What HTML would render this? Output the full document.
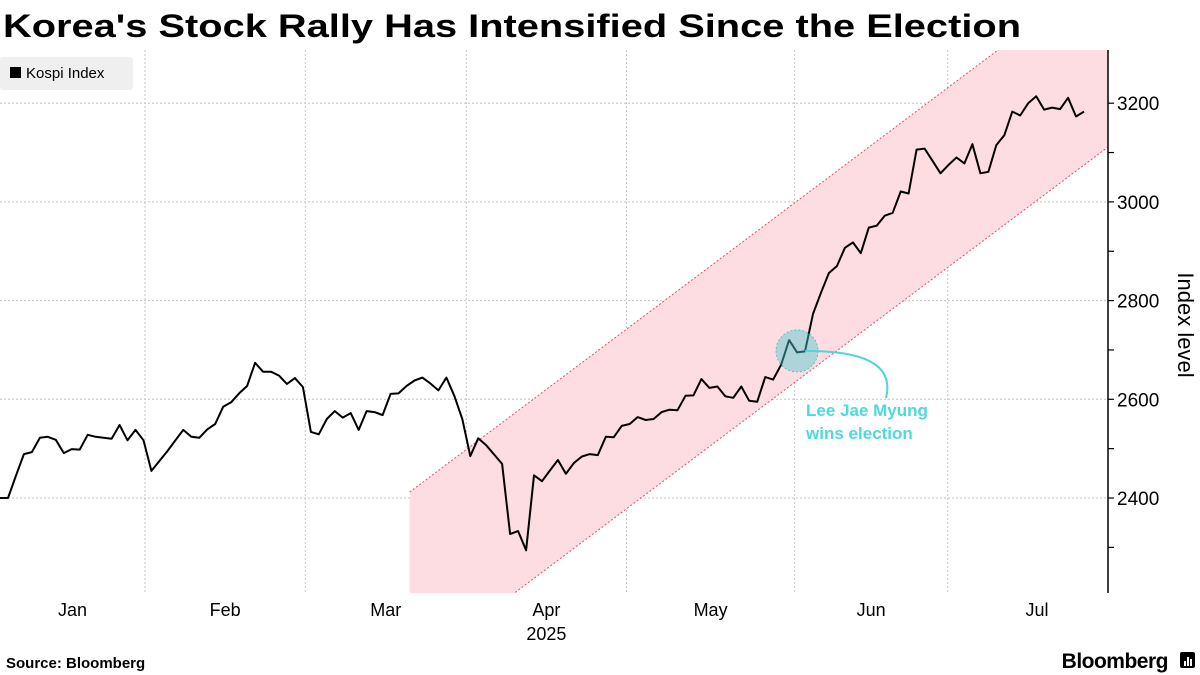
<!DOCTYPE html>
<html><head><meta charset="utf-8"><style>
html,body{margin:0;padding:0;background:#fff;}
svg{display:block;font-family:"Liberation Sans",sans-serif;}
</style></head><body>
<svg id="chart" width="1200" height="675" viewBox="0 0 1200 675">
<text x="3" y="37" font-size="32" font-weight="bold" textLength="1018" lengthAdjust="spacingAndGlyphs" fill="#000">Korea's Stock Rally Has Intensified Since the Election</text>
<g id="grid"></g>
<g id="band"></g>
<g id="series"></g>
<g id="annot"></g>
<g id="yaxis"></g>
<g id="xaxis"></g>
<g>
<rect x="0" y="57" width="133" height="33" rx="3" fill="#efefef"/>
<rect x="10" y="67" width="11" height="11" fill="#000"/>
<text x="26" y="78" font-size="15" fill="#000">Kospi Index</text>
</g>
<text x="1178" y="325" font-size="22" fill="#000" text-anchor="middle" transform="rotate(90 1178 325)">Index level</text>
<text x="6" y="668" font-size="15" font-weight="bold" fill="#000">Source: Bloomberg</text>
<text x="1168" y="668" font-size="21" font-weight="bold" fill="#000" text-anchor="end" letter-spacing="-0.5">Bloomberg</text>
<g>
<rect x="1180" y="652" width="15" height="16" rx="2" fill="#000"/>
<rect x="1184" y="661" width="2" height="5" fill="#fff"/>
<rect x="1187" y="657" width="2" height="9" fill="#fff"/>
<rect x="1190" y="659" width="2" height="7" fill="#fff"/>
</g>
</svg>
<script>
const values = [2400,2400,2445,2489,2493,2522,2524,2518,2491,2499,
2498,2528,2524,2522,2520,2548,2517,2538,2517,2455,
2475,2495,2517,2538,2524,2522,2539,2550,2585,2594,
2612,2627,2674,2656,2656,2648,2631,2643,2625,2534,
2529,2560,2576,2563,2572,2538,2576,2574,2568,2611,
2612,2627,2638,2644,2632,2618,2644,2607,2560,2485,
2521,2507,2488,2469,2327,2333,2294,2446,2434,2456,
2477,2449,2471,2484,2489,2487,
2524,2523,2546,2550,2564,2558,2560,2574,2579,2578,2607,2608,2641,2623,2626,2606,2603,2626,2597,2595,2645,2640,2670,2720,2695,2697,2773,2816,2856,2870,2907,2918,2896,2948,2952,2972,2978,3021,3017,3106,3108,3083,3058,3075,3090,3078,3117,3058,3061,3115,3135,3183,3175,3200,3214,3187,3191,3188,3211,3173,3183];
const yTicks = [2400,2600,2800,3000,3200];
const yMinor = [2300,2500,2700,2900,3100];
const months = ["Jan","Feb","Mar","Apr","May","Jun","Jul"];
const monthStartIdx = [0,18.2,38.3,58.5,78.6,99.7,118.9,138.4];
const electionIdx = 100;
const electionValue = 2698;
const bandStart = [51.4, 2412];
const bandEnd = [125.4, 3310];
const bandWidthVal = -364;

const NS="http://www.w3.org/2000/svg";
const X0=0, X1=1084, N=values.length, AX=1108;
const x = i => X0 + i*(X1-X0)/(N-1);
const y = v => 498 - (v-2400)*0.4935;
const TOP=50, BOT=593;
function mk(tag, attrs, parent){const e=document.createElementNS(NS,tag);for(const k in attrs)e.setAttribute(k,attrs[k]);parent.appendChild(e);return e;}
const grid=document.getElementById('grid');
yTicks.forEach(v=>{
  const l=mk('line',{x1:0,x2:AX,y1:y(v),y2:y(v),stroke:'#c4c4c4','stroke-width':1,'stroke-dasharray':'2,2'},grid);
  
  
});
monthStartIdx.slice(1,7).forEach(m=>{
  const l=mk('line',{x1:x(m),x2:x(m),y1:TOP,y2:BOT,stroke:'#c4c4c4','stroke-width':1,'stroke-dasharray':'2,2'},grid);
  
  
});
// band
const band=document.getElementById('band');
const cp=mk('clipPath',{id:'plotclip'},band);
mk('rect',{x:0,y:TOP,width:AX,height:BOT-TOP},cp);
const bg=mk('g',{'clip-path':'url(#plotclip)'},band);
const ux1=x(bandStart[0]), uy1=y(bandStart[1]), ux2=x(bandEnd[0]), uy2=y(bandEnd[1]);
const slope=(uy2-uy1)/(ux2-ux1);
const dy=y(bandStart[1]+bandWidthVal)-uy1;
const hx=AX+40, hy=uy1+slope*(hx-ux1);
const poly=mk('polygon',{points:`${ux1},${uy1} ${hx},${hy} ${hx},${hy+dy} ${ux1},${uy1+dy}`,fill:'#fddce2'},bg);


[0,dy].forEach((d,k)=>{
  const l=mk('line',{x1:ux1,y1:uy1+d,x2:hx,y2:hy+d,stroke:'#e0506e','stroke-width':1,'stroke-dasharray':'2,2'},bg);
  
  
});
// series
const s=document.getElementById('series');
const pl=mk('polyline',{points:values.map((v,i)=>x(i).toFixed(1)+','+y(v).toFixed(1)).join(' '),fill:'none',stroke:'#000','stroke-width':2,'stroke-linejoin':'round'},s);


// annotation
const an=document.getElementById('annot');
const cx=x(electionIdx), cy=y(electionValue);
const c=mk('circle',{cx:cx,cy:cy,r:21,fill:'rgba(77,200,205,0.45)',stroke:'#4dc8cd','stroke-width':1,'stroke-dasharray':'2,2'},an);


const p=mk('path',{d:`M${cx+8},${cy} C${cx+60},${cy} ${cx+98},${cy+10} ${cx+89},${cy+47}`,fill:'none',stroke:'#4dd6da','stroke-width':2},an);


['Lee Jae Myung','wins election'].forEach((t,k)=>{
  const e=mk('text',{x:cx+9,y:cy+65+k*23,'font-size':17,'font-weight':'bold',fill:'#4dd9de'},an);
  e.textContent=t;
  
  
});
// y axis
const ya=document.getElementById('yaxis');
mk('line',{x1:AX,x2:AX,y1:TOP,y2:BOT,stroke:'#000','stroke-width':1.5},ya);
yTicks.concat(yMinor).forEach(v=>{
  const l=mk('line',{x1:AX,x2:AX+6,y1:y(v),y2:y(v),stroke:'#000','stroke-width':1.2},ya);
  
  
});
yTicks.forEach(v=>{
  const t=mk('text',{x:AX+9,y:y(v)+7,'font-size':19,fill:'#000'},ya);
  t.textContent=v;
  
  
});
// x axis
const xa=document.getElementById('xaxis');
months.forEach((m,k)=>{
  const mid=k<6?(x(monthStartIdx[k])+x(monthStartIdx[k+1]))/2:1037;
  const t=mk('text',{x:mid,y:616,'font-size':18,fill:'#000','text-anchor':'middle'},xa);
  t.textContent=m;
  
  
});
const yr=mk('text',{x:(x(monthStartIdx[3])+x(monthStartIdx[4]))/2,y:640,'font-size':18,fill:'#000','text-anchor':'middle'},xa);
yr.textContent='2025';


</script>
</body></html>
